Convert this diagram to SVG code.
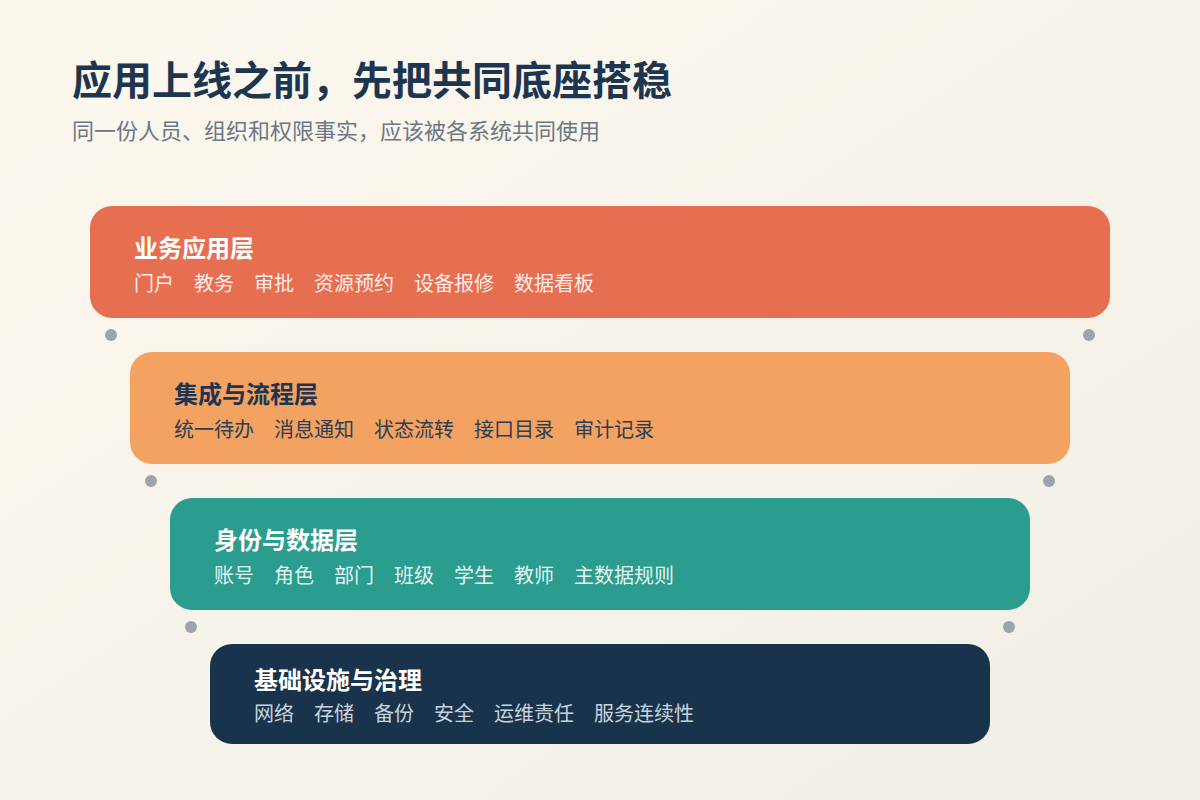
<svg xmlns="http://www.w3.org/2000/svg" width="1200" height="800" viewBox="0 0 1200 800">
  <defs>
    <linearGradient id="bg" x1="0" y1="0" x2="1" y2="1">
      <stop offset="0" stop-color="#fcf8ee"/>
      <stop offset="1" stop-color="#f1eee6"/>
    </linearGradient>
    <style>
      text { font-family: "Noto Sans CJK SC", "Noto Sans", sans-serif; }
      .h1 { font-size: 40px; font-weight: 700; fill: #1d3550; }
      .sub { font-size: 22px; fill: #6b7784; }
      .lt { font-size: 24px; font-weight: 700; }
      .li { font-size: 20px; }
      .dot { fill: #9ca3ac; }
    </style>
  </defs>
  <rect width="1200" height="800" fill="url(#bg)"/>

  <g id="header">
    <text class="h1" x="72" y="95">应用上线之前，先把共同底座搭稳</text>
    <text class="sub" x="72" y="139">同一份人员、组织和权限事实，应该被各系统共同使用</text>
  </g>

  <g id="connectors">
    <circle class="dot" cx="111" cy="335" r="6"/>
    <circle class="dot" cx="1089" cy="335" r="6"/>
    <circle class="dot" cx="151" cy="481" r="6"/>
    <circle class="dot" cx="1049" cy="481" r="6"/>
    <circle class="dot" cx="191" cy="627" r="6"/>
    <circle class="dot" cx="1009" cy="627" r="6"/>
  </g>

  <g id="layer-app">
    <rect x="90" y="206" width="1020" height="112" rx="22" fill="#e76f51"/>
    <text class="lt" x="134" y="257" fill="#ffffff">业务应用层</text>
    <text class="li" y="291" fill="#ffffff" fill-opacity="0.9"><tspan x="134">门户</tspan><tspan x="194">教务</tspan><tspan x="254">审批</tspan><tspan x="314">资源预约</tspan><tspan x="414">设备报修</tspan><tspan x="514">数据看板</tspan></text>
  </g>

  <g id="layer-integration">
    <rect x="130" y="352" width="940" height="112" rx="22" fill="#f3a261"/>
    <text class="lt" x="174" y="403" fill="#1d3550">集成与流程层</text>
    <text class="li" y="437" fill="#2c3e52"><tspan x="174">统一待办</tspan><tspan x="274">消息通知</tspan><tspan x="374">状态流转</tspan><tspan x="474">接口目录</tspan><tspan x="574">审计记录</tspan></text>
  </g>

  <g id="layer-identity">
    <rect x="170" y="498" width="860" height="112" rx="22" fill="#2a9d8f"/>
    <text class="lt" x="214" y="549" fill="#ffffff">身份与数据层</text>
    <text class="li" y="583" fill="#ffffff" fill-opacity="0.9"><tspan x="214">账号</tspan><tspan x="274">角色</tspan><tspan x="334">部门</tspan><tspan x="394">班级</tspan><tspan x="454">学生</tspan><tspan x="514">教师</tspan><tspan x="574">主数据规则</tspan></text>
  </g>

  <g id="layer-infra">
    <rect x="210" y="644" width="780" height="100" rx="22" fill="#1a334d"/>
    <text class="lt" x="254" y="689" fill="#ffffff">基础设施与治理</text>
    <text class="li" y="721" fill="#c8d3de"><tspan x="254">网络</tspan><tspan x="314">存储</tspan><tspan x="374">备份</tspan><tspan x="434">安全</tspan><tspan x="494">运维责任</tspan><tspan x="594">服务连续性</tspan></text>
  </g>
</svg>
